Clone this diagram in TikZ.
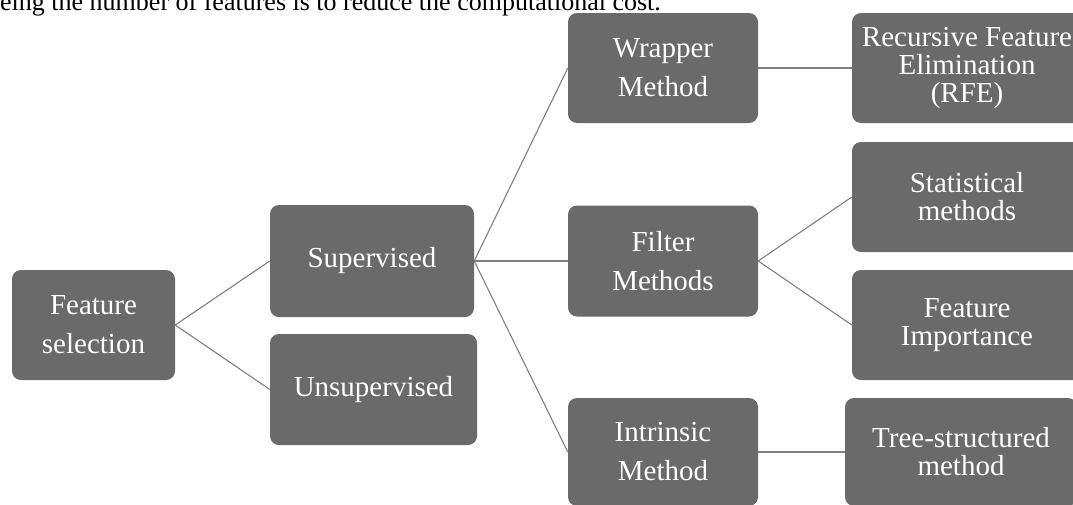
\documentclass[tikz,border=0pt]{standalone}
\usepackage{fontspec}
\setmainfont{Liberation Serif}
\definecolor{boxgray}{RGB}{106,106,106}
\definecolor{linegray}{RGB}{128,128,128}
\tikzset{
  fsbox/.style={draw=none, fill=boxgray, rounded corners=9pt, text=white, align=center,
    inner sep=0pt, font=\fontsize{29}{39}\selectfont},
  tightbox/.style={fsbox, font=\fontsize{29}{28}\selectfont},
  link/.style={draw=linegray, line width=1.1pt}
}
\begin{document}
\begin{tikzpicture}[x=1pt,y=-1pt]
\useasboundingbox (0,0) rectangle (1073,504);
\node[anchor=base west, inner sep=0pt, font=\fontsize{26}{30}\selectfont] (top) at (0,10) {eing the number of features is to reduce the computational cost.};
\node[fsbox, minimum width=163pt, minimum height=110pt] (fs) at (93.5,325) {Feature\\selection};
\node[fsbox, minimum width=204pt, minimum height=112pt] (sup) at (372,261) {Supervised};
\node[fsbox, minimum width=207pt, minimum height=111pt] (uns) at (373.5,389.5) {Unsupervised};
\node[fsbox, minimum width=190pt, minimum height=110pt] (wrap) at (663,68) {Wrapper\\Method};
\node[fsbox, minimum width=190pt, minimum height=111pt] (filt) at (663,261) {Filter\\Methods};
\node[fsbox, minimum width=190pt, minimum height=108pt] (intr) at (663,452) {Intrinsic\\Method};
\node[tightbox, minimum width=230pt, minimum height=110pt] (rfe) at (967,68) {Recursive Feature\\Elimination\\(RFE)};
\node[tightbox, minimum width=230pt, minimum height=110pt] (stat) at (967,197) {Statistical\\methods};
\node[tightbox, minimum width=230pt, minimum height=110pt] (fi) at (967,325) {Feature\\Importance};
\node[tightbox, minimum width=232pt, minimum height=108pt] (tree) at (961,452) {Tree-structured\\method};
\draw[link] (fs.east) -- (sup.west);
\draw[link] (fs.east) -- (uns.west);
\draw[link] (sup.east) -- (wrap.west);
\draw[link] (sup.east) -- (filt.west);
\draw[link] (sup.east) -- (intr.west);
\draw[link] (wrap.east) -- (rfe.west);
\draw[link] (filt.east) -- (stat.west);
\draw[link] (filt.east) -- (fi.west);
\draw[link] (intr.east) -- (tree.west);
\end{tikzpicture}
\end{document}
